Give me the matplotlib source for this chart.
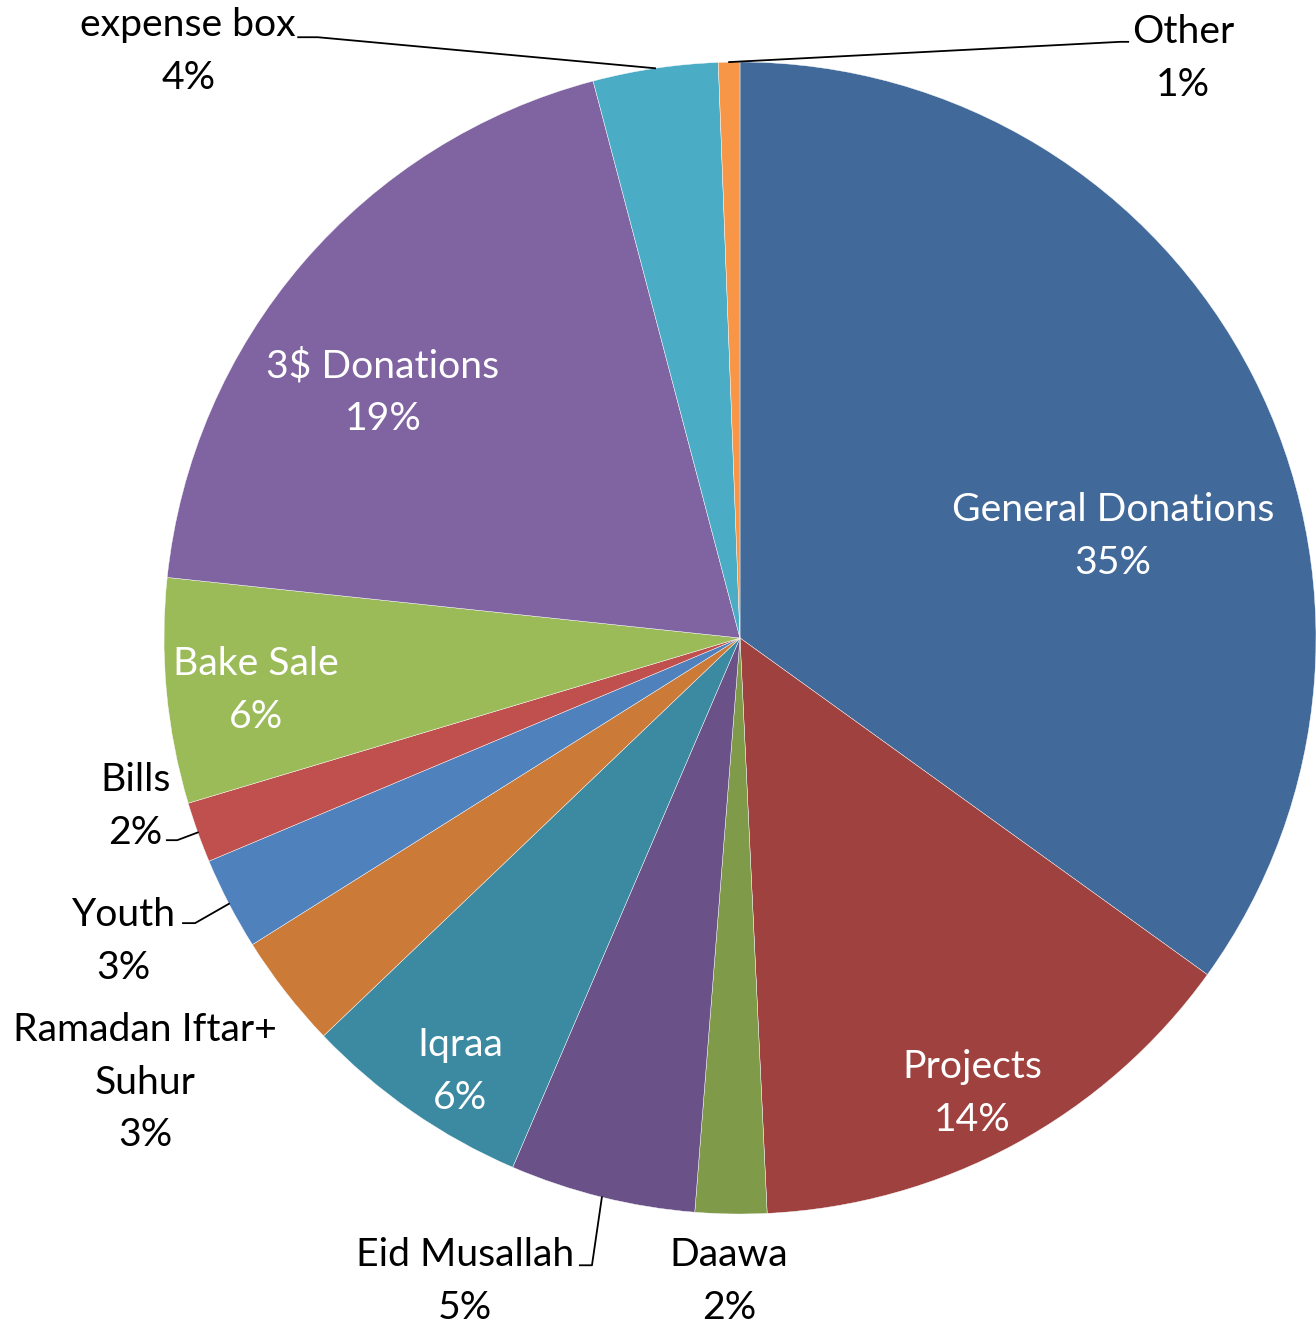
import matplotlib
matplotlib.use('Agg')
import matplotlib.pyplot as plt
import numpy as np

plt.rcParams['font.family'] = ['Lato', 'DejaVu Sans']

# slices, clockwise from 12 o'clock
labels = ['General Donations', 'Projects', 'Daawa', 'Eid Musallah', 'Iqraa',
          'Ramadan Iftar+\nSuhur', 'Youth', 'Bills', 'Bake Sale', '3$ Donations',
          'expense box', 'Other']
values = [34.9, 14.3, 2.0, 5.2, 6.4, 3.2, 2.6, 1.7, 6.3, 19.2, 3.5, 0.6]
colors = ['#416999', '#9E413F', '#7F9A48', '#6A5289', '#3C8AA2', '#CC7A38',
          '#4F81BD', '#C0504D', '#9BBB59', '#8064A2', '#4BACC6', '#F79646']

# label centres, in pie-radius units
label_pos = [(0.648, 0.176), (0.403, -0.791), (-0.019, -1.117), (-0.477, -1.117),
             (-0.486, -0.753), (-1.033, -0.772), (-1.071, -0.527), (-1.050, -0.292),
             (-0.840, -0.091), (-0.620, 0.426), (-0.958, 1.018), (0.769, 1.006)]
inside = [True, True, False, False, True, False, False, False, True, True, False, False]
# leader line start/elbow near the text
leaders = {3: [(-0.278, -1.089), (-0.257, -1.089)],
           6: [(-0.967, -0.495), (-0.946, -0.495)],
           7: [(-0.995, -0.351), (-0.977, -0.351)],
           10: [(-0.767, 1.043), (-0.733, 1.043)],
           11: [(0.674, 1.035), (0.660, 1.035)]}

fig = plt.figure(figsize=(13.16, 13.26), dpi=100)
ax = fig.add_axes([0, 0, 1, 1])
wedges, _ = ax.pie(values, colors=colors, startangle=90, counterclock=False,
                   radius=1, center=(0, 0),
                   wedgeprops=dict(edgecolor='white', linewidth=0.3))
ax.set_xlim(-1.2847, 1.0)
ax.set_ylim(-1.1944, 1.1076)
ax.set_aspect('equal')
ax.axis('off')

total = sum(values)
for i, (lab, v) in enumerate(zip(labels, values)):
    txt = f"{lab}\n{v / total * 100:.0f}%"
    x, y = label_pos[i]
    ax.text(x, y, txt, ha='center', va='center', fontsize=28.2,
            color='white' if inside[i] else 'black', linespacing=1.58)
    lead = leaders.get(i)
    if lead:
        w = wedges[i]
        mid = np.deg2rad((w.theta1 + w.theta2) / 2)
        ex, ey = np.cos(mid), np.sin(mid)
        xs = [lead[0][0], lead[1][0], ex]
        ys = [lead[0][1], lead[1][1], ey]
        ax.plot(xs, ys, color='black', lw=1.3)

fig.savefig('out.png', dpi=100)
